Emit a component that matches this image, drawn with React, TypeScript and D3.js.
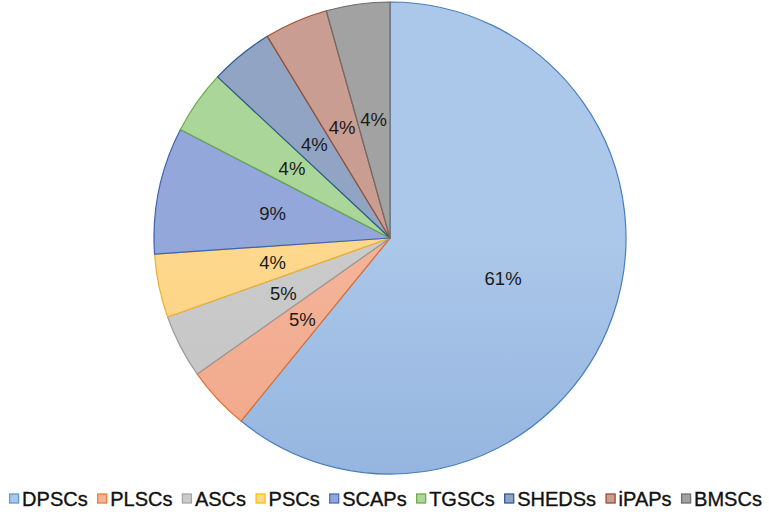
import { useEffect, useRef } from 'react';
import * as d3 from 'd3';

const categories = ['DPSCs', 'PLSCs', 'ASCs', 'PSCs', 'SCAPs', 'TGSCs', 'SHEDSs', 'iPAPs', 'BMSCs'];
// slice sizes
const values = [14, 1, 1, 1, 2, 1, 1, 1, 1];
// labels as printed on the slices
const labels = ['61%', '5%', '5%', '4%', '9%', '4%', '4%', '4%', '4%'];

const fillTop = ['#abc7e9', '#f4b49a', '#cbcbcb', '#fed88e', '#93a7da', '#aad69a', '#91a4c4', '#c99d92', '#a2a2a2'];
const fillBottom = ['#7fa4d7', '#ee9a78', '#bcbcbc', '#fbc86a', '#7d92cf', '#97c97f', '#7b8fb3', '#bd8a7c', '#8c8c8c'];
const strokes = ['#4a7ebb', '#e2702e', '#9a9a9a', '#f0b12a', '#3d63b0', '#6aab45', '#2a5a92', '#9f4f2c', '#6c6c6c'];
const legendColors = ['#5b9bd5', '#ed7d31', '#a5a5a5', '#ffc000', '#4472c4', '#70ad47', '#2e5c96', '#9e4a2a', '#6f6f6f'];

const W = 769;
const H = 517;

const App = () => {
  const svgRef = useRef(null);

  useEffect(() => {
    const svg = d3.select(svgRef.current);
    svg.selectAll('*').remove();

    const cx = 390, cy = 238, r = 236;
    const font = 'Liberation Sans, Arial, sans-serif';

    const defs = svg.append('defs');
    categories.forEach((c, i) => {
      const g = defs.append('linearGradient')
        .attr('id', 'grad' + i)
        .attr('gradientUnits', 'userSpaceOnUse')
        .attr('x1', 0).attr('y1', cy - r)
        .attr('x2', 0).attr('y2', cy + r);
      g.append('stop').attr('offset', '0%').attr('stop-color', fillTop[i]);
      g.append('stop').attr('offset', '100%').attr('stop-color', fillBottom[i]);
    });

    const pie = d3.pie().value(d => d.v).sort(null);
    const arcs = pie(categories.map((c, i) => ({ c, v: values[i], i })));

    const arc = d3.arc().innerRadius(0).outerRadius(r);
    const labelArc = d3.arc().innerRadius(0).outerRadius(240);

    const g = svg.append('g').attr('transform', `translate(${cx},${cy})`);

    g.selectAll('path')
      .data(arcs)
      .enter()
      .append('path')
      .attr('d', arc)
      .attr('fill', d => `url(#grad${d.data.i})`)
      .attr('stroke', d => strokes[d.data.i])
      .attr('stroke-width', 1.2)
      .attr('stroke-linejoin', 'round');

    g.selectAll('text')
      .data(arcs)
      .enter()
      .append('text')
      .attr('transform', d => `translate(${labelArc.centroid(d)})`)
      .attr('text-anchor', 'middle')
      .attr('dy', '0.35em')
      .style('font-family', font)
      .style('font-size', '18.5px')
      .style('fill', '#1a1a1a')
      .text(d => labels[d.data.i]);

    // legend
    const leg = svg.append('g');
    const items = leg.selectAll('g')
      .data(categories)
      .enter()
      .append('g');
    items.append('rect')
      .attr('width', 9).attr('height', 9)
      .attr('y', 494)
      .attr('fill', (d, i) => fillTop[i])
      .attr('stroke', (d, i) => legendColors[i])
      .attr('stroke-width', 1.3);
    const texts = items.append('text')
      .attr('y', 505.5)
      .style('font-family', font)
      .style('font-size', '20px')
      .style('fill', '#111')
      .style('stroke', '#111')
      .style('stroke-width', 0.35)
      .text(d => d);

    const widths = [];
    texts.each(function () { widths.push(this.getComputedTextLength()); });
    const gap = 9.5;
    const total = d3.sum(widths) + widths.length * 13 + (widths.length - 1) * gap;
    let x = (W - total) / 2 + 1;
    items.each(function (d, i) {
      const it = d3.select(this);
      it.select('rect').attr('x', x + 0.5);
      it.select('text').attr('x', x + 13);
      x += 13 + widths[i] + gap;
    });
  }, []);

  return (
    <svg ref={svgRef} width={W} height={H}
      style={{ position: 'absolute', left: 0, top: 0, background: '#fff' }} />
  );
};

export default App;
